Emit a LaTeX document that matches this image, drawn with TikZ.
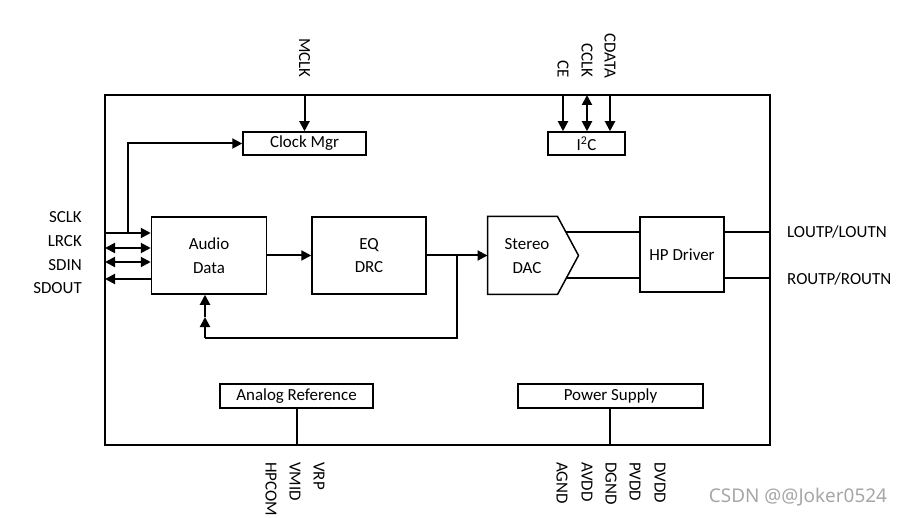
\documentclass[tikz,border=0pt]{standalone}
\usepackage{fontspec}
\setmainfont{Carlito}
\newfontfamily\wmfont{Noto Sans}
\usetikzlibrary{arrows.meta}
\tikzset{
  blk/.style={draw, line width=1.5bp, inner sep=0pt, align=center, font=\fontsize{17}{23.5}\selectfont},
  lbl/.style={font=\fontsize{17}{20}\selectfont, inner sep=0pt},
  sig/.style={line width=2bp},
  thinln/.style={line width=1.5bp},
  arr/.style={sig, -{Triangle[length=10bp,width=10bp]}},
  darr/.style={sig, {Triangle[length=10bp,width=10bp]}-{Triangle[length=10bp,width=10bp]}},
}
\begin{document}
\begin{tikzpicture}[x=1bp,y=-1bp]
\useasboundingbox (0,0) rectangle (903,518);
% chip outline
\node[blk, minimum width=665bp, minimum height=350bp] (chip) at (437.5,270) {};
% blocks
\node[blk, minimum width=123bp, minimum height=23bp] (clk) at (304.5,143.5) {Clock Mgr};
\node[blk, minimum width=77bp, minimum height=23bp] (i2c) at (586.5,143.5) {I\textsuperscript{2}C};
\node[blk, minimum width=115bp, minimum height=77bp] (aud) at (209,255.5) {Audio\\Data};
\node[blk, minimum width=114bp, minimum height=77bp] (eq) at (369,255.5) {EQ\\DRC};
\node[blk, minimum width=84bp, minimum height=75bp] (hp) at (682,254.5) {HP Driver};
\node[blk, minimum width=153bp, minimum height=24bp] (aref) at (296.5,396) {Analog Reference};
\node[blk, minimum width=185bp, minimum height=24bp] (psu) at (610.5,396) {Power Supply};
% DAC pentagon
\draw[line width=1.5bp, line join=miter] (487.5,216.5) -- (557.5,216.5) -- (578.5,255.5) -- (557.5,294.5) -- (487.5,294.5) -- cycle;
\node[blk, draw=none] (dac) at (527,256) {Stereo\\DAC};
\coordinate (dacin) at (487.5,255.5);
\coordinate (dacL) at (565.5,232);
\coordinate (dacR) at (566,278);
% DAC to HP driver, HP driver to pins
\draw[thinln] (dacL) -- (hp.west |- dacL);
\draw[thinln] (dacR) -- (hp.west |- dacR);
\draw[thinln] (hp.east |- dacL) -- (chip.east |- dacL);
\draw[thinln] (hp.east |- dacR) -- (chip.east |- dacR);
\node[lbl, anchor=west] (lout) at (787,232) {LOUTP/LOUTN};
\node[lbl, anchor=west] (rout) at (787,279) {ROUTP/ROUTN};
% data path
\draw[arr] (aud.east) -- (eq.west);
\coordinate (fb) at (457,255.5);
\draw[arr] (eq.east) -- (dacin);
\coordinate (fbc) at (205,338);
\coordinate (fbm) at (205,317);
\draw[sig] (fb) |- (fbc);
\draw[arr] (fbc) -- (fbm);
\draw[arr] (fbm) -- (aud.south -| fbc);
% left serial interface
\coordinate (s1) at (105,233);
\coordinate (s2) at (105,248);
\coordinate (s3) at (105,262);
\coordinate (s4) at (105,279);
\coordinate (jc) at (128,233);
\draw[arr] (s1) -- (aud.west |- s1);
\draw[darr] (s2) -- (aud.west |- s2);
\draw[darr] (s3) -- (aud.west |- s3);
\draw[arr] (aud.west |- s4) -- (s4);
\draw[arr] (jc) |- (clk.west);
\node[lbl, anchor=east] (sclk) at (82,217) {SCLK};
\node[lbl, anchor=east] (lrck) at (82,241) {LRCK};
\node[lbl, anchor=east] (sdin) at (82,265) {SDIN};
\node[lbl, anchor=east] (sdout) at (82,288) {SDOUT};
% top pins
\coordinate (pM) at (304.5,95);
\coordinate (pCE) at (563,95);
\coordinate (pCK) at (587,95);
\coordinate (pCD) at (610,95);
\draw[arr] (pM) -- (clk.north);
\draw[arr] (pCE) -- (pCE |- i2c.north);
\draw[darr] (pCK) -- (pCK |- i2c.north);
\draw[arr] (pCD) -- (pCD |- i2c.north);
\node[lbl, rotate=-90, anchor=east] (mclk) at (304.5,78) {MCLK};
\node[lbl, rotate=-90, anchor=east] (ce) at (563,78) {CE};
\node[lbl, rotate=-90, anchor=east] (cclk) at (587,78) {CCLK};
\node[lbl, rotate=-90, anchor=east] (cdata) at (610,78) {CDATA};
% bottom pins
\coordinate (bA) at (297,445);
\coordinate (bP) at (610,445);
\draw[thinln] (aref.south -| bA) -- (bA);
\draw[thinln] (psu.south -| bP) -- (bP);
\node[lbl, rotate=-90, anchor=west] (hpcom) at (271,462) {HPCOM};
\node[lbl, rotate=-90, anchor=west] (vmid) at (295,462) {VMID};
\node[lbl, rotate=-90, anchor=west] (vrp) at (319,462) {VRP};
\node[lbl, rotate=-90, anchor=west] (agnd) at (562,462) {AGND};
\node[lbl, rotate=-90, anchor=west] (avdd) at (587,462) {AVDD};
\node[lbl, rotate=-90, anchor=west] (dgnd) at (611,462) {DGND};
\node[lbl, rotate=-90, anchor=west] (pvdd) at (635,462) {PVDD};
\node[lbl, rotate=-90, anchor=west] (dvdd) at (660,462) {DVDD};
% watermark
\node[font=\wmfont\fontsize{19}{22}\selectfont, text=black!35, inner sep=0pt] (wm) at (798,497) {CSDN @@Joker0524};
\end{tikzpicture}
\end{document}
